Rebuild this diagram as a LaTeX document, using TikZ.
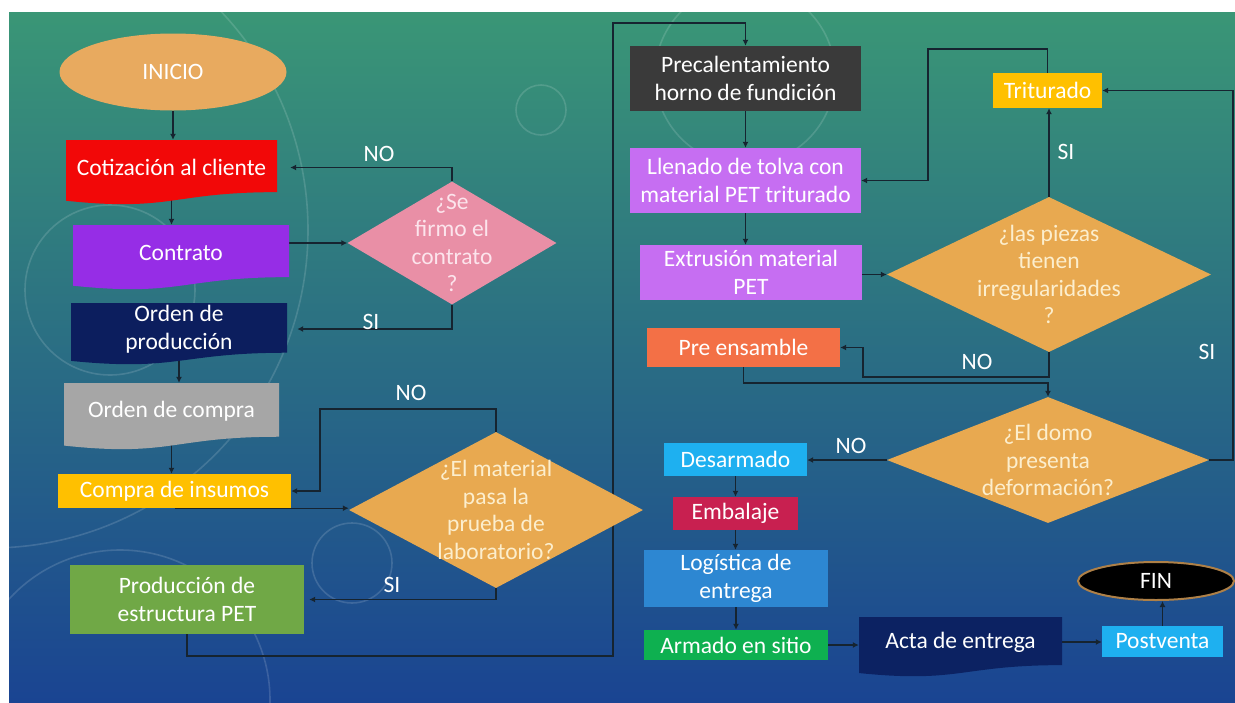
\documentclass[tikz,border=0pt]{standalone}
\usepackage{fontspec}
\setmainfont{Carlito}
\usetikzlibrary{shapes.geometric,arrows.meta}
\pgfdeclarelayer{bglayer}
\pgfdeclarelayer{connlayer}
\pgfsetlayers{bglayer,connlayer,main}

\definecolor{bgTop}{RGB}{58,150,118}
\definecolor{bgMid}{RGB}{30,112,128}
\definecolor{bgBot}{RGB}{26,68,146}
\definecolor{cTan}{RGB}{232,170,95}
\definecolor{cRed}{RGB}{242,8,8}
\definecolor{cPurple}{RGB}{150,45,230}
\definecolor{cNavy}{RGB}{12,30,94}
\definecolor{cGray}{RGB}{166,166,166}
\definecolor{cYellow}{RGB}{255,192,0}
\definecolor{cGreen}{RGB}{112,168,70}
\definecolor{cPink}{RGB}{233,143,166}
\definecolor{cOrange}{RGB}{232,169,80}
\definecolor{cDark}{RGB}{58,58,58}
\definecolor{cLilac}{RGB}{198,110,242}
\definecolor{cCoral}{RGB}{243,112,70}
\definecolor{cSky}{RGB}{30,176,240}
\definecolor{cCrimson}{RGB}{200,32,80}
\definecolor{cBlue}{RGB}{45,135,210}
\definecolor{cEmerald}{RGB}{14,176,80}
\definecolor{cActa}{RGB}{12,34,98}
\definecolor{cLine}{RGB}{22,36,48}
\definecolor{cCream}{RGB}{252,238,205}
\definecolor{cPinkText}{RGB}{252,228,236}

\newcommand{\flowfont}{\fontsize{23.5}{27.5}\selectfont}

\tikzset{
  box/.style={rectangle, inner sep=0pt, text=white, align=center, font=\flowfont},
  dia/.style={diamond, inner sep=0pt},
  diatext/.style={align=center, font=\flowfont, text=cCream, inner sep=0pt},
  conn/.style={draw=cLine, line width=1.3pt, -{Latex[length=6pt,width=6pt]}},
  lbl/.style={text=white, font=\flowfont, inner sep=0pt},
  deco/.style={draw=white, opacity=0.14, line width=1.6pt},
}

\newcommand{\rectnode}[7]{%
  \node[box, fill=#6, minimum width={#4-#2}, minimum height={#5-#3}] (#1) at ({(#2+#4)/2},{(#3+#5)/2}) {#7};}
\newcommand{\docnode}[7]{%
  \fill[#6] (#2,#3) -- (#4,#3) -- (#4,{#3+0.802*(#5-#3)}) .. controls ({(#2+#4)/2},{#3+0.802*(#5-#3)}) and ({(#2+#4)/2},{#3+1.107*(#5-#3)}) .. (#2,{#3+0.934*(#5-#3)}) -- cycle;
  \node[box, minimum width={#4-#2}, minimum height={#5-#3-10}] (#1) at ({(#2+#4)/2},{(#3+#5-10)/2}) {#7};}

\begin{document}
\begin{tikzpicture}[x=1pt,y=-1pt]
\useasboundingbox (0,0) rectangle (1235,702);
\begin{pgfonlayer}{bglayer}
  \fill[white] (0,0) rectangle (1235,702);
  \shade[top color=bgTop, middle color=bgMid, bottom color=bgBot] (9,12) rectangle (1235,702);
  \begin{scope}
    \clip (9,12) rectangle (1235,702);
    \draw[deco] (-10,230) circle (318pt);
    \draw[deco] (110,290) circle (85pt);
    \draw[deco] (541,110) circle (25pt);
    \draw[deco] (352,563) circle (40pt);
    \draw[deco] (745,75) circle (90pt);
    \draw[deco] (120,700) circle (150pt);
  \end{scope}
\end{pgfonlayer}

% left column
\node[ellipse, fill=cTan, minimum width=227, minimum height=77, inner sep=0pt, text=white, font=\flowfont] (inicio) at (173,72) {INICIO};
\docnode{cot}{66}{140}{277}{205}{cRed}{Cotización al cliente}
\docnode{contrato}{73}{225}{289}{290}{cPurple}{Contrato}
\docnode{ordenprod}{71}{303}{287}{365}{cNavy}{Orden de\\producción}
\docnode{ordencomp}{64}{383}{279}{450}{cGray}{Orden de compra}
\rectnode{compra}{58}{474}{291}{508}{cYellow}{Compra de insumos}
\rectnode{prod}{70}{565}{304}{634}{cGreen}{Producción de\\estructura PET}
\node[dia, fill=cPink, minimum width=209, minimum height=123,
  label={[diatext, text=cPinkText]center:{¿Se\\firmo el\\contrato\\?}}] (d1) at (452,243) {};
\node[dia, fill=cOrange, minimum width=294, minimum height=156,
  label={[diatext]center:{¿El material\\pasa la\\prueba de\\laboratorio?}}] (d2) at (496,510) {};

% right column
\rectnode{prec}{630}{46}{861}{111}{cDark}{Precalentamiento\\horno de fundición}
\rectnode{llenado}{630}{148}{861}{213}{cLilac}{Llenado de tolva con\\material PET triturado}
\rectnode{extr}{640}{245}{862}{300}{cLilac}{Extrusión material\\PET}
\rectnode{pre}{647}{328}{840}{367}{cCoral}{Pre ensamble}
\rectnode{trit}{993}{73}{1102}{108}{cYellow}{Triturado}
\node[dia, fill=cOrange, minimum width=324, minimum height=155,
  label={[diatext]center:{¿las piezas\\tienen\\irregularidades\\?}}] (d3) at (1049,274.5) {};
\node[dia, fill=cOrange, minimum width=322, minimum height=126,
  label={[diatext]center:{¿El domo\\presenta\\deformación?}}] (d4) at (1048,460) {};
\rectnode{desar}{664}{443}{807}{476}{cSky}{Desarmado}
\rectnode{emb}{673}{497}{798}{530}{cCrimson}{Embalaje}
\rectnode{log}{644}{550}{828}{607}{cBlue}{Logística de\\entrega}
\rectnode{armado}{644}{630}{828}{660}{cEmerald}{Armado en sitio}
\docnode{acta}{859}{617}{1062}{677}{cActa}{Acta de entrega}
\rectnode{post}{1102}{626}{1223}{657}{cSky}{Postventa}
\node[ellipse, fill=black, draw=cTan!75!black, line width=2pt, minimum width=156, minimum height=38, inner sep=0pt, text=white, font=\flowfont] (fin) at (1156,581) {FIN};

% branch labels
\node[lbl] (lno1) at (379,154) {NO};
\node[lbl] (lsi1) at (371,322) {SI};
\node[lbl] (lno2) at (411,393) {NO};
\node[lbl] (lsi2) at (392,585) {SI};
\node[lbl] (lsi3) at (1066,152) {SI};
\node[lbl] (lno3) at (977,362) {NO};
\node[lbl] (lsi4) at (1207,352) {SI};
\node[lbl] (lno4) at (851,446) {NO};

\begin{pgfonlayer}{connlayer}
  \draw[conn] (inicio.south) -- (inicio.south |- cot.north);
  \draw[conn] (cot.south) -- (cot.south |- contrato.north);
  \draw[conn] (contrato.east |- d1.west) -- (d1.west);
  \draw[conn, shorten >=13pt] (d1.north) |- (cot.east);
  \draw[conn, shorten >=10pt] (d1.south) |- (ordenprod.east);
  \draw[conn] (ordenprod.south) -- (ordenprod.south |- ordencomp.north);
  \draw[conn] (ordencomp.south) -- (ordencomp.south |- compra.north);
  \draw[conn] (compra.south) -- (compra.south -| d2.west);
  \draw[conn] (d2.north) |- (320,409) |- (compra.east);
  \draw[conn, shorten >=5pt] (d2.south) |- (prod.east);
  \draw[conn] (prod.south) |- (613,656) -- (613,23) -| (prec.north);
  \draw[conn] (prec.south) -- (prec.south |- llenado.north);
  \draw[conn] (llenado.south) -- (llenado.south |- extr.north);
  \draw[conn] (extr.east |- d3.west) -- (d3.west);
  \draw[conn] (d3.north) -- (d3.north |- trit.south);
  \draw[conn] (trit.north) |- (928,49) |- (llenado.east);
  \draw[conn] (d4.east) -| (1233,300) |- (trit.east);
  \draw[conn] (d3.south) |- (863,377) |- (pre.east);
  \draw[conn] (pre.south) |- (1048,383) -- (d4.north);
  \draw[conn] (d4.west) -- (d4.west -| desar.east);
  \draw[conn] (desar.south) -- (desar.south |- emb.north);
  \draw[conn] (emb.south) -- (emb.south |- log.north);
  \draw[conn] (log.south) -- (log.south |- armado.north);
  \draw[conn] (armado.east) -- (armado.east -| acta.west);
  \draw[conn] (acta.east) -- (acta.east -| post.west);
  \draw[conn] (post.north) -- (post.north |- fin.south);
\end{pgfonlayer}
\end{tikzpicture}
\end{document}
